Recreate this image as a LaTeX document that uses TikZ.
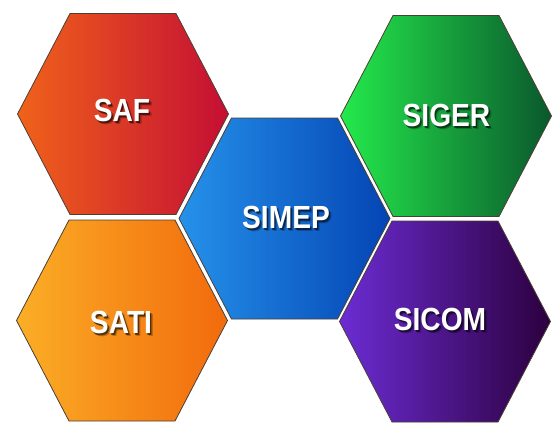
\documentclass[tikz,border=0pt]{standalone}
\usepackage{fontspec}
\setmainfont{Liberation Sans}
\newfontfamily\hexfont{Liberation Sans}[FakeStretch=0.88]
\definecolor{safL}{HTML}{F0621A}
\definecolor{safM}{HTML}{D8282C}
\definecolor{safR}{HTML}{C40E34}
\definecolor{satiL}{HTML}{FBAE26}
\definecolor{satiM}{HTML}{F78C1E}
\definecolor{satiR}{HTML}{F26A0C}
\definecolor{simepL}{HTML}{2592EA}
\definecolor{simepM}{HTML}{0A62D2}
\definecolor{simepR}{HTML}{0444B4}
\definecolor{sigerL}{HTML}{24EA4C}
\definecolor{sigerM}{HTML}{1CBA3A}
\definecolor{sigerR}{HTML}{0A582C}
\definecolor{sicomL}{HTML}{6C2CD4}
\definecolor{sicomM}{HTML}{5800B0}
\definecolor{sicomR}{HTML}{2C003E}
\definecolor{hexline}{HTML}{4A4034}
% one hexagonal cell: centre (#1,#2), shading colours #3 -> #4 -> #5
\newcommand{\hexcell}[5]{%
  \shade[hexedge, left color=#3, middle color=#4, right color=#5]
    (#1-105.5,#2) -- (#1-53,#2-100.5) -- (#1+53,#2-100.5) --
    (#1+105.5,#2) -- (#1+53,#2+100.5) -- (#1-53,#2+100.5) -- cycle;}
% white text over two soft, semi-transparent dark copies
\newcommand{\shadowed}[1]{%
  \rlap{\kern2.8pt\raisebox{-3.2pt}{\pgfsetfillopacity{0.22}\color{black}#1}}%
  \rlap{\kern1.5pt\raisebox{-1.9pt}{\pgfsetfillopacity{0.55}\color{black}#1}}%
  \pgfsetfillopacity{1}#1}
\begin{document}
\begin{tikzpicture}[x=1pt, y=-1pt,
  hexedge/.style={draw=hexline, line width=0.8pt, line join=miter},
  hexlabel/.style={font=\hexfont\bfseries\fontsize{32}{32}\selectfont,
    text=white, inner sep=0pt}]
\useasboundingbox (0,0) rectangle (556,423);
\fill[white] (0,0) rectangle (556,423);

\hexcell{123}{114}{safL}{safM}{safR}
\hexcell{122}{320.5}{satiL}{satiM}{satiR}
\hexcell{284.5}{218.5}{simepL}{simepM}{simepR}
\hexcell{446}{116}{sigerL}{sigerM}{sigerR}
\hexcell{445}{321.5}{sicomL}{sicomM}{sicomR}

\node[hexlabel] (saf)   at (122,112)   {\shadowed{SAF}};
\node[hexlabel] (sati)  at (121,324)   {\shadowed{SATI}};
\node[hexlabel] (simep) at (286,219)   {\shadowed{SIMEP}};
\node[hexlabel] (siger) at (446.5,117) {\shadowed{SIGER}};
\node[hexlabel] (sicom) at (440,321)   {\shadowed{SICOM}};
\end{tikzpicture}
\end{document}
